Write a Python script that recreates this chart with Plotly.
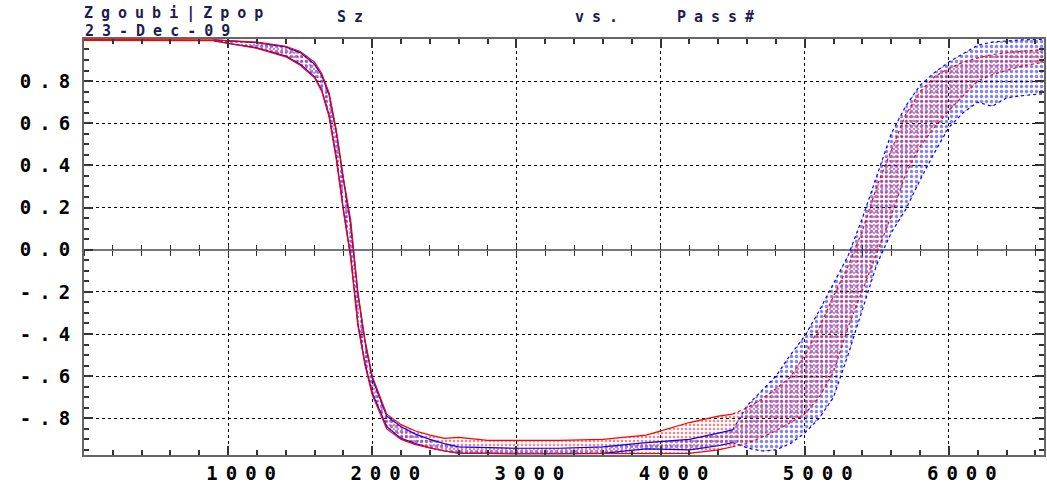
import plotly.graph_objects as go

# Spin tracking: vertical spin component Sz of the particle bunch vs. turn number
PASS = [0, 500, 900, 1000, 1200, 1400, 1500, 1600, 1650, 1700,
        1750, 1800, 1850, 1900, 1950, 2000, 2100, 2200, 2300, 2400,
        2500, 2600, 2800, 3000, 3300, 3600, 3900, 4200, 4400, 4500,
        4600, 4700, 4800, 4900, 5000, 5100, 5200, 5300, 5400, 5500,
        5600, 5700, 5800, 5900, 6000, 6100, 6200, 6300, 6400, 6500,
        6660]

# upper / lower envelope of the red particle set
SZ_RED_HI = [0.997, 0.997, 0.996, 0.992, 0.985, 0.965, 0.940, 0.890, 0.835, 0.745,
             0.570, 0.340, 0.140, -0.200, -0.430, -0.600, -0.780, -0.830, -0.860, -0.880,
             -0.895, -0.890, -0.905, -0.905, -0.905, -0.900, -0.880, -0.820, -0.790, -0.780,
             -0.750, -0.710, -0.660, -0.605, -0.500, -0.370, -0.220, -0.080, 0.090, 0.300,
             0.470, 0.640, 0.750, 0.820, 0.860, 0.890, 0.910, 0.925, 0.935, 0.940,
             0.950]
SZ_RED_LO = [0.993, 0.993, 0.992, 0.978, 0.955, 0.915, 0.875, 0.815, 0.750, 0.630,
             0.430, 0.180, -0.040, -0.360, -0.550, -0.690, -0.850, -0.900, -0.925, -0.940,
             -0.955, -0.965, -0.968, -0.968, -0.968, -0.968, -0.966, -0.966, -0.950, -0.935,
             -0.920, -0.890, -0.860, -0.820, -0.780, -0.700, -0.580, -0.370, -0.190, -0.020,
             0.160, 0.360, 0.490, 0.580, 0.660, 0.730, 0.800, 0.830, 0.850, 0.870,
             0.890]

# upper / lower envelope of the blue particle set (starts near pass 900)
SZ_BLUE_HI = [None, None, 0.995, 0.990, 0.982, 0.962, 0.935, 0.880, 0.825, 0.735,
              0.560, 0.330, 0.120, -0.210, -0.440, -0.610, -0.790, -0.840, -0.875, -0.900,
              -0.920, -0.935, -0.940, -0.942, -0.942, -0.935, -0.915, -0.900, -0.870, -0.855,
              -0.740, -0.670, -0.600, -0.500, -0.410, -0.290, -0.160, -0.030, 0.150, 0.350,
              0.550, 0.680, 0.780, 0.840, 0.890, 0.930, 0.970, 0.985, 0.990, 0.995,
              0.998]
SZ_BLUE_LO = [None, None, 0.990, 0.980, 0.958, 0.918, 0.880, 0.820, 0.755, 0.640,
              0.440, 0.190, -0.030, -0.350, -0.540, -0.680, -0.840, -0.895, -0.920, -0.940,
              -0.955, -0.965, -0.968, -0.968, -0.968, -0.966, -0.945, -0.950, -0.930, -0.915,
              -0.940, -0.955, -0.950, -0.920, -0.870, -0.800, -0.700, -0.500, -0.280, -0.070,
              0.080, 0.190, 0.330, 0.460, 0.580, 0.650, 0.700, 0.680, 0.720, 0.730,
              0.740]

X_TICKS = [1000, 2000, 3000, 4000, 5000, 6000]
X_LABELS = ["1000", "2000", "3000", "4000", "5000", "6000"]
Y_TICKS = [0.8, 0.6, 0.4, 0.2, 0.0, -0.2, -0.4, -0.6, -0.8]
Y_LABELS = ["0.8", "0.6", "0.4", "0.2", "0.0", "-.2", "-.4", "-.6", "-.8"]

RED = "#ff0000"
BLUE = "#0000ff"
INK = "#1c1c50"
X_RANGE = [0, 6660]
Y_RANGE = [-0.974, 0.9995]
SPLIT = PASS.index(4500)   # dense band before, scattered cloud after


def spaced(txt, gap):
    return f'<span style="letter-spacing:{gap}px"><b>{txt}</b></span>'


fig = go.Figure()


def band(lo, hi, color, size, solidity):
    fig.add_trace(go.Scatter(x=PASS, y=lo, mode="lines", line=dict(width=0),
                             showlegend=False, hoverinfo="skip"))
    fig.add_trace(go.Scatter(x=PASS, y=hi, mode="lines", line=dict(width=0),
                             fill="tonexty", fillcolor="rgba(0,0,0,0)",
                             fillpattern=dict(shape=".", fgcolor=color,
                                              bgcolor="rgba(0,0,0,0)",
                                              size=size, solidity=solidity),
                             showlegend=False, hoverinfo="skip"))


def edges(lo, hi, color):
    for ys in (lo, hi):
        fig.add_trace(go.Scatter(x=PASS[:SPLIT + 1], y=ys[:SPLIT + 1], mode="lines",
                                 line=dict(color=color, width=1.2),
                                 showlegend=False, hoverinfo="skip"))
        fig.add_trace(go.Scatter(x=PASS[SPLIT:], y=ys[SPLIT:], mode="lines",
                                 line=dict(color=color, width=1.2, dash="dot"),
                                 showlegend=False, hoverinfo="skip"))


band(SZ_BLUE_LO, SZ_BLUE_HI, BLUE, 5, 0.35)
band(SZ_RED_LO, SZ_RED_HI, RED, 4, 0.3)
edges(SZ_BLUE_LO, SZ_BLUE_HI, BLUE)
edges(SZ_RED_LO, SZ_RED_HI, RED)

# helper traces for the tick rows drawn along Sz = 0
fig.add_trace(go.Scatter(x=X_RANGE, y=[0, 0], xaxis="x2", mode="lines",
                         line=dict(width=0), showlegend=False, hoverinfo="skip"))
fig.add_trace(go.Scatter(x=X_RANGE, y=[0, 0], xaxis="x3", mode="lines",
                         line=dict(width=0), showlegend=False, hoverinfo="skip"))

zero_pos = (0 - Y_RANGE[0]) / (Y_RANGE[1] - Y_RANGE[0])
tick_font = dict(family="DejaVu Sans Mono", size=19, color="black", weight="bold")

fig.update_layout(
    width=1047, height=485,
    margin=dict(l=84, r=1, t=39, b=28),
    paper_bgcolor="white", plot_bgcolor="white",
    xaxis=dict(range=X_RANGE, tickmode="array", tickvals=X_TICKS,
               ticktext=[spaced(t, 8) for t in X_LABELS], tickfont=tick_font,
               ticks="inside", ticklen=9, tickwidth=1.5, tickcolor="#333",
               showline=True, linecolor="#666", linewidth=2, mirror="ticks",
               showgrid=True, gridcolor="black", griddash="dot", gridwidth=1,
               zeroline=False, ticklabelshift=17,
               minor=dict(dtick=200, tick0=0, ticks="inside", ticklen=5,
                          tickcolor="#333", showgrid=False)),
    xaxis2=dict(range=X_RANGE, overlaying="x", anchor="free", position=zero_pos,
                side="bottom", showline=False, showgrid=False, zeroline=False,
                showticklabels=False, tickmode="linear", tick0=0, dtick=200,
                ticks="outside", ticklen=5, tickcolor="#333"),
    xaxis3=dict(range=X_RANGE, overlaying="x", anchor="free", position=zero_pos,
                side="bottom", showline=False, showgrid=False, zeroline=False,
                showticklabels=False, tickmode="linear", tick0=0, dtick=200,
                ticks="inside", ticklen=5, tickcolor="#333"),
    yaxis=dict(range=Y_RANGE, tickmode="array", tickvals=Y_TICKS,
               ticktext=[spaced(t, 8) for t in Y_LABELS], tickfont=tick_font,
               ticks="inside", ticklen=9, tickwidth=1.5, tickcolor="#333",
               showline=True, linecolor="#666", linewidth=2, mirror="ticks",
               showgrid=True, gridcolor="black", griddash="dot", gridwidth=1,
               zeroline=True, zerolinecolor="#777", zerolinewidth=2,
               minor=dict(dtick=0.05, tick0=0, ticks="inside", ticklen=5,
                          tickcolor="#333", showgrid=False)),
)

title_font = dict(family="DejaVu Sans Mono", size=15, color=INK, weight="bold")
for txt, px, py in [("Zgoubi|Zpop", 83, 13), ("23-Dec-09", 84, 31),
                    ("Sz", 337, 17), ("vs.", 575, 17), ("Pass#", 677, 17)]:
    fig.add_annotation(text=spaced(txt, 8), xref="paper", yref="paper",
                       x=(px - 84) / 962, y=1 + (39 - py) / 418,
                       xanchor="left", yanchor="middle", showarrow=False,
                       borderpad=0, font=title_font)

fig.write_html("out.html")
